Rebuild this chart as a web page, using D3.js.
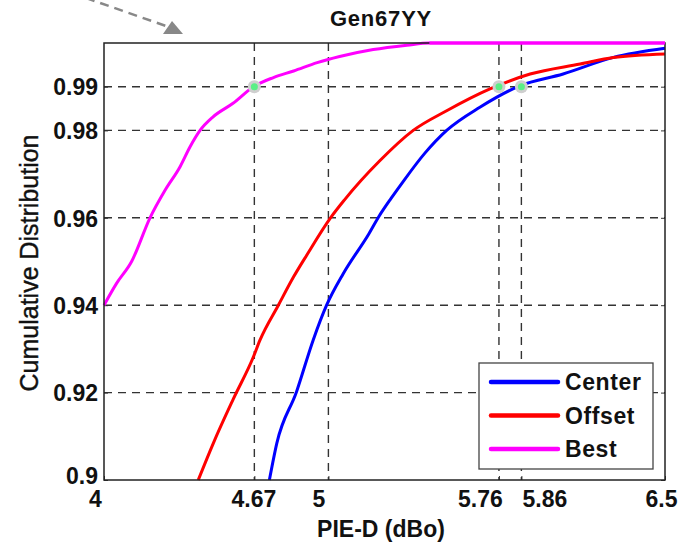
<!DOCTYPE html>
<html>
<head>
<meta charset="utf-8">
<script src="https://cdn.jsdelivr.net/npm/d3@7"></script>
<style>
  body { margin: 0; background: #fff; }
  svg { display: block; font-family: "Liberation Sans", Arial, sans-serif; }
</style>
</head>
<body>
<svg id="chart" width="678" height="544"></svg>
<script>
// curve values (PIE-D in dBo, cumulative fraction)
const centerX = [4.737, 4.77, 4.858, 4.932, 4.992, 5.066, 5.18, 5.225, 5.28, 5.333, 5.43, 5.527, 5.675, 5.853, 6.046, 6.27, 6.5];
const centerY = [0.9, 0.9084, 0.9202, 0.932, 0.94, 0.9472, 0.9563, 0.9603, 0.9645, 0.9683, 0.9748, 0.98, 0.9853, 0.9902, 0.9929, 0.9967, 0.9988];

const offsetX = [4.42, 4.487, 4.576, 4.666, 4.695, 4.777, 4.845, 4.904, 5.011, 5.07, 5.23, 5.378, 5.527, 5.72, 5.899, 6.122, 6.27, 6.5];
const offsetY = [0.9, 0.9084, 0.9185, 0.9282, 0.932, 0.94, 0.9465, 0.9515, 0.9601, 0.964, 0.9731, 0.98, 0.9845, 0.9895, 0.9929, 0.9952, 0.9967, 0.9975];

const bestX = [4.0, 4.056, 4.123, 4.205, 4.272, 4.339, 4.383, 4.428, 4.486, 4.575, 4.666, 4.755, 4.845, 4.95, 5.05, 5.2, 5.35, 5.45, 6.5];
const bestY = [0.94, 0.945, 0.95, 0.96, 0.9663, 0.9717, 0.9762, 0.98, 0.9831, 0.9862, 0.99, 0.9921, 0.9936, 0.9955, 0.9969, 0.9985, 0.9995, 1.0, 1.0];

const seriesNames = ["Center", "Offset", "Best"];
const seriesColors = ["#0000ff", "#ff0000", "#ff00ff"];

const xTicks = [4, 4.67, 5, 5.76, 5.86, 6.5];
const yTicks = [0.9, 0.92, 0.94, 0.96, 0.98, 0.99];

// points where each curve hits 0.99
const markX = [4.67, 5.76, 5.86];
const markY = [0.99, 0.99, 0.99];

const svg = d3.select("#chart");

const x = d3.scaleLinear().domain([4, 6.5]).range([104, 665]);
const y = d3.scaleLinear().domain([0.9, 1.0]).range([480, 43]);

const series = [
  {name: seriesNames[0], color: seriesColors[0], pts: d3.zip(centerX, centerY)},
  {name: seriesNames[1], color: seriesColors[1], pts: d3.zip(offsetX, offsetY)},
  {name: seriesNames[2], color: seriesColors[2], pts: d3.zip(bestX, bestY)}
];

// gray dashed annotation arrow top-left
svg.append("line")
  .attr("x1", 86).attr("y1", -2).attr("x2", 166).attr("y2", 26)
  .attr("stroke", "#888").attr("stroke-width", 2.5)
  .attr("stroke-dasharray", "9,6");
svg.append("path")
  .attr("d", "M163,34 L183,34 L172,21 Z")
  .attr("fill", "#888");

// title
svg.append("text")
  .attr("x", 381).attr("y", 26)
  .attr("text-anchor", "middle")
  .attr("font-size", 22).attr("font-weight", "bold")
  .attr("letter-spacing", 0.8)
  .attr("fill", "#111")
  .text("Gen67YY");

// grid
const grid = svg.append("g")
  .attr("stroke", "#333").attr("stroke-width", 1.4)
  .attr("stroke-dasharray", "8,6");
grid.selectAll("line.gx")
  .data(xTicks.filter(d => d > 4 && d < 6.5))
  .join("line")
  .attr("x1", d => x(d)).attr("x2", d => x(d))
  .attr("y1", y(1.0)).attr("y2", y(0.9));
grid.selectAll("line.gy")
  .data(yTicks.filter(d => d > 0.9))
  .join("line")
  .attr("x1", x(4)).attr("x2", x(6.5))
  .attr("y1", d => y(d)).attr("y2", d => y(d));

// axes, ticks pointing inward
const xAxis = svg.append("g")
  .attr("transform", `translate(0,${y(0.9)})`)
  .call(d3.axisBottom(x).tickValues(xTicks).tickSize(-4).tickFormat(d3.format("")));
// labels were shifted sideways in the original so they don't collide
const xNudge = {4: -9, 4.67: -1, 5: -10, 5.76: -19, 5.86: 23, 6.5: -4};
xAxis.selectAll("text")
  .attr("font-size", 23).attr("font-weight", "bold").attr("fill", "#111")
  .attr("y", 27).attr("dy", 0)
  .attr("dx", d => xNudge[d] || 0);

const yAxis = svg.append("g")
  .attr("transform", `translate(${x(4)},0)`)
  .call(d3.axisLeft(y).tickValues(yTicks).tickSize(-4).tickFormat(d3.format("")));
yAxis.selectAll("text")
  .attr("font-size", 23).attr("font-weight", "bold").attr("fill", "#111")
  .attr("x", -6)
  .attr("dy", d => d === 0.9 ? "0.15em" : "0.36em");

svg.append("g")
  .attr("transform", `translate(${x(6.5)},0)`)
  .call(d3.axisRight(y).tickValues(yTicks).tickSize(-4).tickFormat(""));

svg.selectAll(".domain").remove();
svg.selectAll(".tick line").attr("stroke", "#333");

// curves
const line = d3.line()
  .curve(d3.curveMonotoneX)
  .x(d => x(d[0])).y(d => y(d[1]));
svg.append("g")
  .selectAll("path")
  .data(series)
  .join("path")
  .attr("fill", "none")
  .attr("stroke", d => d.color)
  .attr("stroke-width", 3)
  .attr("stroke-linejoin", "round")
  .attr("d", d => line(d.pts));

// frame
svg.append("rect")
  .attr("x", x(4)).attr("y", y(1.0))
  .attr("width", x(6.5) - x(4)).attr("height", y(0.9) - y(1.0))
  .attr("fill", "none").attr("stroke", "#222").attr("stroke-width", 1.5);

// redraw the flat top part of Best over the frame
svg.append("line")
  .attr("x1", x(5.45)).attr("x2", x(6.5))
  .attr("y1", y(1.0)).attr("y2", y(1.0))
  .attr("stroke", seriesColors[2]).attr("stroke-width", 3);

// marker dots
const marks = d3.zip(markX, markY);
svg.append("g").selectAll("circle")
  .data(marks).join("circle")
  .attr("cx", d => x(d[0])).attr("cy", d => y(d[1]))
  .attr("r", 6.5).attr("fill", "#cfcfcf");
svg.append("g").selectAll("circle")
  .data(marks).join("circle")
  .attr("cx", d => x(d[0])).attr("cy", d => y(d[1]))
  .attr("r", 3.5).attr("fill", "#5bef86");

// legend
const lg = svg.append("g");
lg.append("rect")
  .attr("x", 479).attr("y", 363).attr("width", 174).attr("height", 106)
  .attr("fill", "#fff").attr("stroke", "#444").attr("stroke-width", 1.3);
const item = lg.selectAll("g.item")
  .data(series).join("g")
  .attr("transform", (d, i) => `translate(491,${382 + i * 33.5})`);
item.append("line")
  .attr("x1", 0).attr("x2", 67)
  .attr("stroke", d => d.color).attr("stroke-width", 4.5)
  .attr("stroke-linecap", "round");
item.append("text")
  .attr("x", 74).attr("dy", "0.36em")
  .attr("font-size", 23).attr("font-weight", "bold").attr("fill", "#111")
  .attr("letter-spacing", 0.6)
  .text(d => d.name);

// axis titles
svg.append("text")
  .attr("x", 381).attr("y", 537)
  .attr("text-anchor", "middle")
  .attr("font-size", 23).attr("font-weight", "bold").attr("fill", "#111")
  .text("PIE-D (dBo)");

svg.append("text")
  .attr("transform", "translate(38,263) rotate(-90)")
  .attr("text-anchor", "middle")
  .attr("font-size", 25).attr("fill", "#111")
  .attr("stroke", "#111").attr("stroke-width", 0.4)
  .text("Cumulative Distribution");
</script>
</body>
</html>
